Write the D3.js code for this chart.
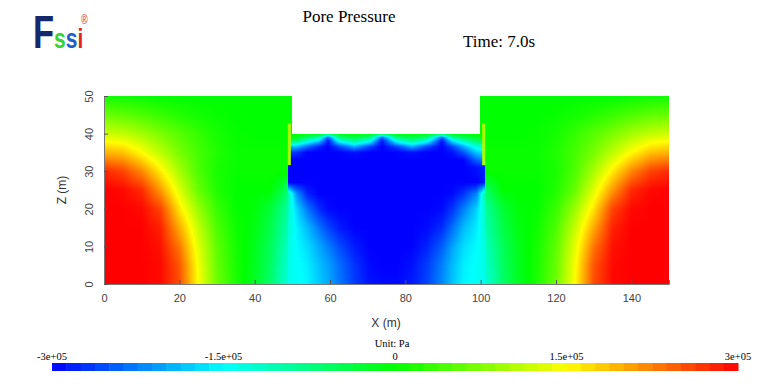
<!DOCTYPE html>
<html>
<head>
<meta charset="utf-8">
<script src="https://cdn.jsdelivr.net/npm/d3@7"></script>
<style>
  body { margin: 0; background: #fff; }
</style>
</head>
<body>
<div id="chart"></div>
<script>
// pore pressure, in units of 1e5 Pa
// left soil block (x 0-50 m, z 0-50 m)
const leftX = [0, 5, 10, 15, 20, 25, 30, 35, 40, 44, 47, 50];
const leftZ = [0, 5, 10, 15, 20, 25, 30, 35, 40, 45, 50];
const leftP = [
  [3, 3, 3, 2.95, 2.55, 1.5, 0.65, 0.15, -0.2, -0.6, -1.05, -1.4],
  [3, 3, 3, 2.95, 2.5, 1.45, 0.6, 0.15, -0.18, -0.55, -1.0, -1.35],
  [3, 3, 3, 2.9, 2.3, 1.33, 0.55, 0.12, -0.15, -0.5, -0.9, -1.3],
  [3, 3, 3, 2.8, 2.0, 1.15, 0.45, 0.08, -0.1, -0.4, -0.8, -1.2],
  [3, 3, 2.95, 2.6, 1.65, 0.9, 0.32, 0.03, -0.05, -0.3, -0.7, -1.1],
  [3, 2.95, 2.75, 2.1, 1.3, 0.6, 0.18, 0, 0, 0, -0.35, -0.85],
  [2.75, 2.6, 2.2, 1.6, 0.98, 0.45, 0.14, 0.05, 0.05, 0.05, 0.05, 0.05],
  [1.95, 1.85, 1.5, 1.1, 0.7, 0.4, 0.18, 0.05, 0.05, 0.05, 0.05, 0.05],
  [1.2, 1.12, 0.95, 0.72, 0.5, 0.3, 0.12, 0.03, 0, 0, 0, 0],
  [0.6, 0.55, 0.45, 0.32, 0.2, 0.1, 0.04, 0, 0, 0, 0, 0],
  [0.1, 0.08, 0.05, 0, 0, 0, 0, 0, 0, 0, 0, 0]
];

// soil under the excavation (x 49-101 m, z 0-40 m)
const midX = [48.8, 51, 54, 57, 59.5, 62.5, 66.5, 70.5, 73.8, 77.8, 81.8, 85.8, 89.7, 92.5, 95.5, 99, 101.2];
const midZ = [0, 5, 10, 15, 20, 24, 27, 31, 33, 35, 36.5, 38, 39, 40];
const midP = [
  [-1.4, -1.45, -1.55, -1.8, -2.0, -2.3, -2.65, -2.9, -2.95, -2.95, -2.85, -2.6, -2.2, -1.85, -1.55, -1.45, -1.4],
  [-1.35, -1.45, -1.6, -1.85, -2.05, -2.35, -2.7, -2.95, -3, -3, -2.9, -2.65, -2.25, -1.9, -1.6, -1.45, -1.35],
  [-1.3, -1.5, -1.7, -2.0, -2.25, -2.55, -2.85, -3, -3, -3, -3, -2.8, -2.45, -2.05, -1.7, -1.5, -1.3],
  [-1.2, -1.55, -1.9, -2.3, -2.6, -2.85, -3, -3, -3, -3, -3, -2.95, -2.75, -2.35, -1.9, -1.6, -1.2],
  [-1.1, -1.7, -2.3, -2.75, -2.95, -3, -3, -3, -3, -3, -3, -3, -2.95, -2.7, -2.25, -1.75, -1.1],
  [-0.9, -2.1, -2.8, -3, -3, -3, -3, -3, -3, -3, -3, -3, -3, -2.95, -2.7, -2.2, -0.9],
  [-3, -3, -3, -3, -3, -3, -3, -3, -3, -3, -3, -3, -3, -3, -3, -3, -2.8],
  [-3, -3, -3, -3, -3, -3, -3, -3, -3, -3, -3, -3, -3, -3, -3, -2.9, -2.8],
  [-3, -3, -3, -3, -3, -3, -3, -3, -3, -3, -3, -3, -3, -3, -3, -2.4, -2.2],
  [-2.6, -2.7, -3, -3, -3, -3, -2.9, -3, -3, -3, -2.9, -3, -3, -2.9, -2.5, -1.8, -1.7],
  [-1.9, -1.9, -2.4, -2.8, -3, -2.6, -2.0, -2.6, -3, -2.6, -2.0, -2.6, -3, -2.6, -2.0, -1.3, -1.2],
  [-0.7, -0.7, -1.3, -1.8, -2.9, -1.4, -0.9, -1.4, -2.9, -1.4, -0.9, -1.4, -2.9, -1.7, -1.1, -0.6, -0.5],
  [-0.1, -0.1, -0.6, -1.0, -2.4, -0.7, -0.4, -0.7, -2.4, -0.7, -0.4, -0.7, -2.4, -0.9, -0.5, -0.2, -0.1],
  [0, 0, 0, 0, -0.3, 0, 0, 0, -0.3, 0, 0, 0, -0.3, 0, 0, 0, 0]
];

// right soil block (x 100-150 m, z 0-50 m)
const rightX = [100, 103, 106, 110, 115, 120, 125, 130, 135, 140, 145, 150];
const rightZ = [0, 5, 10, 15, 20, 25, 30, 35, 40, 45, 50];
const rightP = [
  [-1.4, -1.05, -0.6, -0.2, 0.15, 0.65, 1.5, 2.55, 2.95, 3, 3, 3],
  [-1.35, -1.0, -0.55, -0.18, 0.15, 0.6, 1.45, 2.5, 2.95, 3, 3, 3],
  [-1.3, -0.9, -0.5, -0.15, 0.12, 0.55, 1.33, 2.3, 2.9, 3, 3, 3],
  [-1.2, -0.8, -0.4, -0.1, 0.08, 0.45, 1.15, 2.0, 2.8, 3, 3, 3],
  [-1.1, -0.7, -0.3, -0.05, 0.03, 0.32, 0.9, 1.65, 2.6, 2.95, 3, 3],
  [-0.85, -0.35, 0, 0, 0, 0.18, 0.6, 1.3, 2.1, 2.75, 2.95, 3],
  [0.05, 0.05, 0.05, 0.05, 0.05, 0.14, 0.45, 0.98, 1.6, 2.2, 2.6, 2.75],
  [0.05, 0.05, 0.05, 0.05, 0.05, 0.18, 0.4, 0.7, 1.1, 1.5, 1.85, 1.95],
  [0, 0, 0, 0, 0.03, 0.12, 0.3, 0.5, 0.72, 0.95, 1.12, 1.2],
  [0, 0, 0, 0, 0, 0.04, 0.1, 0.2, 0.32, 0.45, 0.55, 0.6],
  [0, 0, 0, 0, 0, 0, 0, 0, 0, 0.05, 0.08, 0.1]
];

// retaining walls: x0, x1, z0, z1 (m) and their pressure
const walls = [
  {x0: 48.8, x1: 49.6, z0: 31.6, z1: 42.7, p: 1.0},
  {x0: 100.4, x1: 101.2, z0: 31.6, z1: 42.7, p: 1.0}
];

const xTicks = [0, 20, 40, 60, 80, 100, 120, 140];
const zTicks = [0, 10, 20, 30, 40, 50];
const barTicks = [-3, -1.5, 0, 1.5, 3];
const barLabels = ["-3e+05", "-1.5e+05", "0", "1.5e+05", "3e+05"];

const width = 768, height = 384;

const x = d3.scaleLinear().domain([0, 150]).range([104, 669]);
const z = d3.scaleLinear().domain([0, 50]).range([284, 96]);

const color = d3.scaleLinear()
    .domain([-3, -1.5, 0, 1.5, 3])
    .range(["#0000ff", "#00ffff", "#00ff00", "#ffff00", "#ff0000"])
    .clamp(true);

const svg = d3.select("#chart").append("svg")
    .attr("width", width)
    .attr("height", height)
    .style("font-family", "'Liberation Sans', Arial, sans-serif");

svg.append("rect").attr("width", width).attr("height", height).attr("fill", "#fff");

// bilinear lookup on one of the grids
function locate(arr, v) {
  let i = d3.bisectRight(arr, v) - 1;
  i = Math.max(0, Math.min(arr.length - 2, i));
  let t = (v - arr[i]) / (arr[i + 1] - arr[i]);
  return [i, Math.max(0, Math.min(1, t))];
}

function sample(xs, zs, p, xm, zm) {
  const [i, tx] = locate(xs, xm), [j, tz] = locate(zs, zm);
  const a = p[j][i] * (1 - tx) + p[j][i + 1] * tx,
        b = p[j + 1][i] * (1 - tx) + p[j + 1][i + 1] * tx;
  return a * (1 - tz) + b * tz;
}

// shade the field into a canvas, then put it in the svg
const x0 = Math.round(x(0)), x1 = Math.round(x(150)),
      y0 = Math.round(z(50)), y1 = Math.round(z(0));
const cw = x1 - x0, ch = y1 - y0;
const canvas = document.createElement("canvas");
canvas.width = cw; canvas.height = ch;
const ctx = canvas.getContext("2d");
const img = ctx.createImageData(cw, ch);

for (let py = 0; py < ch; py++) {
  const zm = z.invert(y0 + py + 0.5);
  for (let px = 0; px < cw; px++) {
    const xm = x.invert(x0 + px + 0.5);
    let v;
    if (zm > 40 && xm > 50 && xm < 99.7) continue;   // excavated
    else if (xm < 48.8 || (zm >= 40 && xm <= 50)) v = sample(leftX, leftZ, leftP, xm, zm);
    else if (xm > 101.2 || (zm >= 40 && xm >= 99.7)) v = sample(rightX, rightZ, rightP, xm, zm);
    else v = sample(midX, midZ, midP, xm, zm);
    const c = d3.rgb(color(v)), k = (py * cw + px) * 4;
    img.data[k] = c.r; img.data[k + 1] = c.g; img.data[k + 2] = c.b; img.data[k + 3] = 255;
  }
}
ctx.putImageData(img, 0, 0);

svg.append("image")
    .attr("x", x0).attr("y", y0)
    .attr("width", cw).attr("height", ch)
    .attr("href", canvas.toDataURL());

svg.append("g").selectAll("rect")
  .data(walls)
  .enter().append("rect")
    .attr("x", d => x(d.x0))
    .attr("y", d => z(d.z1))
    .attr("width", d => x(d.x1) - x(d.x0))
    .attr("height", d => z(d.z0) - z(d.z1))
    .attr("fill", d => color(d.p));

// axes, ticks on the inside
const xAxis = svg.append("g")
    .attr("transform", "translate(0," + z(0) + ")")
    .call(d3.axisBottom(x).tickValues(xTicks).tickSize(-4).tickPadding(8));
const zAxis = svg.append("g")
    .attr("transform", "translate(" + x(0) + ",0)")
    .call(d3.axisLeft(z).tickValues(zTicks).tickSize(-4).tickPadding(8));

[xAxis, zAxis].forEach(function(g) {
  g.select(".domain").attr("stroke", "#777");
  g.selectAll(".tick line").attr("stroke", "#555");
  g.selectAll(".tick text")
      .attr("fill", "#444")
      .style("font-size", "11px")
      .style("font-family", "'Liberation Sans', Arial, sans-serif");
});

zAxis.selectAll(".tick text")
    .attr("x", null).attr("dy", null)
    .attr("text-anchor", "middle")
    .attr("transform", "translate(-11,0) rotate(-90)");

xAxis.selectAll(".tick text").attr("dy", "0.9em");

svg.append("text")
    .attr("x", 386).attr("y", 327)
    .attr("text-anchor", "middle")
    .attr("fill", "#333")
    .style("font-size", "12px")
    .text("X (m)");

svg.append("text")
    .attr("transform", "translate(66,190) rotate(-90)")
    .attr("text-anchor", "middle")
    .attr("fill", "#333")
    .style("font-size", "12px")
    .text("Z (m)");

// titles
svg.append("text")
    .attr("x", 349).attr("y", 22)
    .attr("text-anchor", "middle")
    .style("font-family", "'Liberation Serif', 'Times New Roman', serif")
    .style("font-size", "17px")
    .text("Pore Pressure");

svg.append("text")
    .attr("x", 463).attr("y", 47)
    .style("font-family", "'Liberation Serif', 'Times New Roman', serif")
    .style("font-size", "17px")
    .text("Time: 7.0s");

// colour bar
const bar = d3.scaleLinear().domain([-3, 3]).range([52, 738]);
const steps = d3.range(48);
const stepW = (bar.range()[1] - bar.range()[0]) / steps.length;
svg.append("g").selectAll("rect")
  .data(steps)
  .enter().append("rect")
    .attr("x", d => bar.range()[0] + d * stepW)
    .attr("y", 363)
    .attr("width", stepW + 0.5)
    .attr("height", 8)
    .attr("fill", d => color(-3 + (d + 0.5) * 6 / steps.length));

svg.append("g").selectAll("text")
  .data(barTicks)
  .enter().append("text")
    .attr("x", d => bar(d))
    .attr("y", 360)
    .attr("text-anchor", "middle")
    .style("font-family", "'Liberation Serif', 'Times New Roman', serif")
    .style("font-size", "10.5px")
    .text((d, i) => barLabels[i]);

svg.append("text")
    .attr("x", 392).attr("y", 347)
    .attr("text-anchor", "middle")
    .style("font-family", "'Liberation Serif', 'Times New Roman', serif")
    .style("font-size", "10.5px")
    .text("Unit:  Pa");

// logo, one text with coloured letters, squeezed a little
const logo = svg.append("text")
    .attr("transform", "translate(33,48) scale(0.75,1)")
    .style("font-family", "'Liberation Sans', Arial, sans-serif")
    .style("font-weight", "bold");
logo.append("tspan").attr("fill", "#14286b").style("font-size", "46px").text("F");
logo.append("tspan").attr("fill", "#35d23a").style("font-size", "28px").text("s");
logo.append("tspan").attr("fill", "#1d5fc8").style("font-size", "28px").text("s");
logo.append("tspan").attr("fill", "#e52420").style("font-size", "28px").text("i");
logo.append("tspan").attr("fill", "#e52420").style("font-size", "12px").style("font-weight", "normal")
    .attr("dx", -3).attr("dy", -24).text("®");
</script>
</body>
</html>
